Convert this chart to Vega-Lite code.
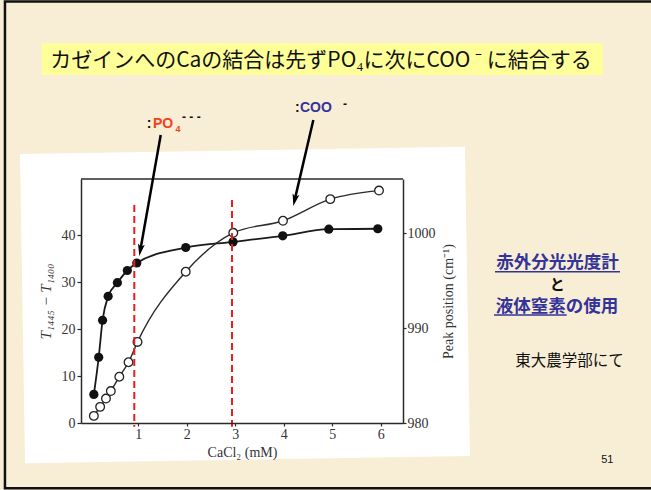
{
  "$schema": "https://vega.github.io/schema/vega-lite/v6.json",
  "width": 322,
  "height": 244,
  "autosize": {"type": "none"},
  "padding": {"left": 81, "top": 179, "right": 248, "bottom": 67},
  "background": "#f8eed5",
  "config": {
    "view": {"stroke": null},
    "axis": {
      "labelFont": "Liberation Serif", "labelColor": "#333",
      "titleFont": "Liberation Serif", "titleColor": "#333", "titleFontWeight": "normal",
      "domainColor": "#2a2a2a", "domainWidth": 1.5, "tickColor": "#2a2a2a", "tickWidth": 1.2,
      "tickSize": 4, "labelPadding": 2, "grid": false
    }
  },
  "data": {"values": [{}]},
  "datasets": {
    "bound": [
      {"cacl2": 0.085, "t_diff": 6.1},
      {"cacl2": 0.185, "t_diff": 14.0},
      {"cacl2": 0.265, "t_diff": 21.9},
      {"cacl2": 0.38, "t_diff": 27.0},
      {"cacl2": 0.57, "t_diff": 29.9},
      {"cacl2": 0.775, "t_diff": 32.5},
      {"cacl2": 0.97, "t_diff": 34.1},
      {"cacl2": 1.98, "t_diff": 37.4},
      {"cacl2": 2.955, "t_diff": 38.6},
      {"cacl2": 3.98, "t_diff": 39.9},
      {"cacl2": 4.93, "t_diff": 41.3},
      {"cacl2": 5.94, "t_diff": 41.4}
    ],
    "peak": [
      {"cacl2": 0.085, "peak": 980.75},
      {"cacl2": 0.215, "peak": 981.7},
      {"cacl2": 0.335, "peak": 982.57},
      {"cacl2": 0.435, "peak": 983.36},
      {"cacl2": 0.61, "peak": 984.87},
      {"cacl2": 0.8, "peak": 986.4},
      {"cacl2": 0.985, "peak": 988.54},
      {"cacl2": 1.98, "peak": 995.93},
      {"cacl2": 2.96, "peak": 1000.03},
      {"cacl2": 3.985, "peak": 1001.3},
      {"cacl2": 4.96, "peak": 1003.58},
      {"cacl2": 5.965, "peak": 1004.48}
    ]
  },
  "resolve": {"scale": {"y": "independent"}, "axis": {"x": "independent"}},
  "layer": [
    {
      "layer": [
        {
          "mark": {"type": "rect", "fillOpacity": 0, "stroke": "#111", "strokeWidth": 2.5},
          "encoding": {
            "x": {"datum": -1.748, "type": "quantitative", "scale": {"domain": [-0.18, 6.46], "nice": false, "zero": false}, "axis": null},
            "x2": {"datum": 11.7},
            "y": {"datum": 89.83, "type": "quantitative", "scale": {"domain": [0, 52], "nice": false, "zero": false}, "axis": null},
            "y2": {"datum": -13.92}
          }
        },
        {
          "mark": {"type": "point", "shape": "M-1,-0.695L1,-0.695L1,0.695L-1,0.695Z", "size": 198025, "angle": -0.94, "filled": true, "fill": "#ffffff", "strokeWidth": 0, "opacity": 1},
          "encoding": {
            "x": {"datum": 3.202, "type": "quantitative", "scale": {"domain": [-0.18, 6.46], "nice": false, "zero": false}, "axis": null},
            "y": {"datum": 25.15, "type": "quantitative", "scale": {"domain": [0, 52], "nice": false, "zero": false}, "axis": null}
          }
        },
        {
          "mark": {"type": "rect", "fill": "#ffff99"},
          "encoding": {
            "x": {"datum": -0.9905, "type": "quantitative", "scale": {"domain": [-0.18, 6.46], "nice": false, "zero": false}, "axis": null},
            "x2": {"datum": 10.579},
            "y": {"datum": 80.93, "type": "quantitative", "scale": {"domain": [0, 52], "nice": false, "zero": false}, "axis": null},
            "y2": {"datum": 74.17}
          }
        },
        {
          "mark": {"type": "text", "text": "カゼインへのCaの結合は先ずPO₄に次にCOO ⁻ に結合する", "font": "Noto Sans CJK JP", "fontSize": 21, "color": "#111", "align": "center", "baseline": "alphabetic"},
          "encoding": {
            "x": {"datum": 4.769, "type": "quantitative", "scale": {"domain": [-0.18, 6.46], "nice": false, "zero": false}, "axis": null},
            "y": {"datum": 75.87, "type": "quantitative", "scale": {"domain": [0, 52], "nice": false, "zero": false}, "axis": null}
          }
        },
        {
          "mark": {"type": "text", "text": "赤外分光光度計", "font": "Noto Sans CJK JP", "fontSize": 17.5, "fontWeight": "bold", "color": "#33339a", "align": "center", "baseline": "alphabetic"},
          "encoding": {
            "x": {"datum": 9.647, "type": "quantitative", "scale": {"domain": [-0.18, 6.46], "nice": false, "zero": false}, "axis": null},
            "y": {"datum": 33.04, "type": "quantitative", "scale": {"domain": [0, 52], "nice": false, "zero": false}, "axis": null}
          }
        },
        {
          "mark": {"type": "rule", "stroke": "#33339a", "strokeWidth": 1.5},
          "encoding": {
            "x": {"datum": 8.357, "type": "quantitative", "scale": {"domain": [-0.18, 6.46], "nice": false, "zero": false}, "axis": null},
            "x2": {"datum": 10.935},
            "y": {"datum": 32.25, "type": "quantitative", "scale": {"domain": [0, 52], "nice": false, "zero": false}, "axis": null}
          }
        },
        {
          "mark": {"type": "text", "text": "と", "font": "Noto Sans CJK JP", "fontSize": 15, "fontWeight": "bold", "color": "#111", "align": "center", "baseline": "alphabetic"},
          "encoding": {
            "x": {"datum": 9.643, "type": "quantitative", "scale": {"domain": [-0.18, 6.46], "nice": false, "zero": false}, "axis": null},
            "y": {"datum": 28.4, "type": "quantitative", "scale": {"domain": [0, 52], "nice": false, "zero": false}, "axis": null}
          }
        },
        {
          "mark": {"type": "text", "text": "液体窒素の使用", "font": "Noto Sans CJK JP", "fontSize": 17.5, "fontWeight": "bold", "color": "#33339a", "align": "center", "baseline": "alphabetic"},
          "encoding": {
            "x": {"datum": 9.636, "type": "quantitative", "scale": {"domain": [-0.18, 6.46], "nice": false, "zero": false}, "axis": null},
            "y": {"datum": 23.66, "type": "quantitative", "scale": {"domain": [0, 52], "nice": false, "zero": false}, "axis": null}
          }
        },
        {
          "mark": {"type": "rule", "stroke": "#33339a", "strokeWidth": 1.5},
          "encoding": {
            "x": {"datum": 8.337, "type": "quantitative", "scale": {"domain": [-0.18, 6.46], "nice": false, "zero": false}, "axis": null},
            "x2": {"datum": 9.836},
            "y": {"datum": 23.02, "type": "quantitative", "scale": {"domain": [0, 52], "nice": false, "zero": false}, "axis": null}
          }
        },
        {
          "mark": {"type": "text", "text": "東大農学部にて", "font": "Noto Sans CJK JP", "fontSize": 15.5, "color": "#111", "align": "center", "baseline": "alphabetic"},
          "encoding": {
            "x": {"datum": 9.894, "type": "quantitative", "scale": {"domain": [-0.18, 6.46], "nice": false, "zero": false}, "axis": null},
            "y": {"datum": 12.25, "type": "quantitative", "scale": {"domain": [0, 52], "nice": false, "zero": false}, "axis": null}
          }
        },
        {
          "mark": {"type": "text", "text": "51", "font": "Liberation Sans", "fontSize": 11, "color": "#111", "align": "center", "baseline": "alphabetic"},
          "encoding": {
            "x": {"datum": 10.674, "type": "quantitative", "scale": {"domain": [-0.18, 6.46], "nice": false, "zero": false}, "axis": null},
            "y": {"datum": -8.59, "type": "quantitative", "scale": {"domain": [0, 52], "nice": false, "zero": false}, "axis": null}
          }
        }
      ]
    },
    {
      "data": {"name": "bound"},
      "encoding": {
        "x": {
          "field": "cacl2", "type": "quantitative",
          "scale": {"domain": [-0.18, 6.46], "nice": false, "zero": false},
          "axis": {"values": [1, 2, 3, 4, 5, 6], "title": "CaCl₂  (mM)", "titlePadding": 4, "tickSize": 3, "labelPadding": 1, "labelFontSize": 14, "titleFontSize": 14, "zindex": 1}
        },
        "y": {
          "field": "t_diff", "type": "quantitative",
          "scale": {"domain": [0, 52], "nice": false, "zero": false},
          "axis": {"orient": "left", "values": [0, 10, 20, 30, 40], "title": "T₁₄₄₅ − T₁₄₀₀", "titleFontStyle": "italic", "titlePadding": 8, "labelFontSize": 14, "titleFontSize": 15, "zindex": 1}
        }
      },
      "layer": [
        {"mark": {"type": "line", "interpolate": "monotone", "stroke": "#1a1a1a", "strokeWidth": 1.8}},
        {"mark": {"type": "point", "shape": "circle", "filled": true, "fill": "#111", "size": 85, "opacity": 1, "strokeWidth": 0}}
      ]
    },
    {
      "data": {"name": "peak"},
      "encoding": {
        "x": {"field": "cacl2", "type": "quantitative", "scale": {"domain": [-0.18, 6.46], "nice": false, "zero": false}, "axis": null},
        "y": {
          "field": "peak", "type": "quantitative",
          "scale": {"domain": [980, 1005.7], "nice": false, "zero": false},
          "axis": {"orient": "right", "values": [980, 990, 1000], "format": "d", "title": "Peak position (cm⁻¹)", "titleAngle": 270, "titleBaseline": "top", "titlePadding": 6, "tickSize": 3, "labelPadding": 1, "labelFontSize": 14, "titleFontSize": 14, "zindex": 1}
        }
      },
      "layer": [
        {"mark": {"type": "line", "interpolate": "monotone", "stroke": "#2a2a2a", "strokeWidth": 1.4}},
        {"mark": {"type": "point", "shape": "circle", "filled": true, "fill": "#ffffff", "stroke": "#222", "strokeWidth": 1.3, "size": 75, "opacity": 1}}
      ]
    },
    {
      "layer": [
        {
          "mark": {"type": "rule", "stroke": "#2a2a2a", "strokeWidth": 1.5},
          "encoding": {
            "x": {"datum": -0.18, "type": "quantitative", "scale": {"domain": [-0.18, 6.46], "nice": false, "zero": false}, "axis": null},
            "x2": {"datum": 6.46},
            "y": {"datum": 52, "type": "quantitative", "scale": {"domain": [0, 52], "nice": false, "zero": false}, "axis": null}
          }
        },
        {
          "mark": {"type": "rule", "stroke": "#ee1c1c", "strokeWidth": 2, "strokeDash": [7, 4]},
          "encoding": {
            "x": {"datum": 0.919, "type": "quantitative", "scale": {"domain": [-0.18, 6.46], "nice": false, "zero": false}, "axis": null},
            "y": {"datum": 46.46, "type": "quantitative", "scale": {"domain": [0, 52], "nice": false, "zero": false}, "axis": null},
            "y2": {"datum": -0.79}
          }
        },
        {
          "mark": {"type": "rule", "stroke": "#ee1c1c", "strokeWidth": 2, "strokeDash": [7, 4]},
          "encoding": {
            "x": {"datum": 2.934, "type": "quantitative", "scale": {"domain": [-0.18, 6.46], "nice": false, "zero": false}, "axis": null},
            "y": {"datum": 47.53, "type": "quantitative", "scale": {"domain": [0, 52], "nice": false, "zero": false}, "axis": null},
            "y2": {"datum": -0.79}
          }
        },
        {
          "mark": {"type": "rule", "stroke": "#000", "strokeWidth": 2.5},
          "encoding": {
            "x": {"datum": 1.464, "type": "quantitative", "scale": {"domain": [-0.18, 6.46], "nice": false, "zero": false}, "axis": null},
            "x2": {"datum": 1.045},
            "y": {"datum": 61.38, "type": "quantitative", "scale": {"domain": [0, 52], "nice": false, "zero": false}, "axis": null},
            "y2": {"datum": 36.91}
          }
        },
        {
          "mark": {"type": "point", "shape": "M0,1L-0.55,-0.9L0,-0.5L0.55,-0.9Z", "size": 160, "angle": 10, "filled": true, "fill": "#000", "strokeWidth": 0, "opacity": 1},
          "encoding": {
            "x": {"datum": 1.045, "type": "quantitative", "scale": {"domain": [-0.18, 6.46], "nice": false, "zero": false}, "axis": null},
            "y": {"datum": 36.91, "type": "quantitative", "scale": {"domain": [0, 52], "nice": false, "zero": false}, "axis": null}
          }
        },
        {
          "mark": {"type": "rule", "stroke": "#000", "strokeWidth": 2.5},
          "encoding": {
            "x": {"datum": 4.611, "type": "quantitative", "scale": {"domain": [-0.18, 6.46], "nice": false, "zero": false}, "axis": null},
            "x2": {"datum": 4.227},
            "y": {"datum": 64.58, "type": "quantitative", "scale": {"domain": [0, 52], "nice": false, "zero": false}, "axis": null},
            "y2": {"datum": 47.55}
          }
        },
        {
          "mark": {"type": "point", "shape": "M0,1L-0.55,-0.9L0,-0.5L0.55,-0.9Z", "size": 160, "angle": 13, "filled": true, "fill": "#000", "strokeWidth": 0, "opacity": 1},
          "encoding": {
            "x": {"datum": 4.227, "type": "quantitative", "scale": {"domain": [-0.18, 6.46], "nice": false, "zero": false}, "axis": null},
            "y": {"datum": 47.55, "type": "quantitative", "scale": {"domain": [0, 52], "nice": false, "zero": false}, "axis": null}
          }
        },
        {
          "mark": {"type": "text", "text": ":", "font": "Liberation Sans", "fontSize": 14, "fontWeight": "bold", "color": "#111", "align": "left", "baseline": "alphabetic"},
          "encoding": {
            "x": {"datum": 1.175, "type": "quantitative", "scale": {"domain": [-0.18, 6.46], "nice": false, "zero": false}, "axis": null},
            "y": {"datum": 62.81, "type": "quantitative", "scale": {"domain": [0, 52], "nice": false, "zero": false}, "axis": null}
          }
        },
        {
          "mark": {"type": "text", "text": "PO", "font": "Liberation Sans", "fontSize": 14, "fontWeight": "bold", "color": "#f5401a", "align": "left", "baseline": "alphabetic"},
          "encoding": {
            "x": {"datum": 1.305, "type": "quantitative", "scale": {"domain": [-0.18, 6.46], "nice": false, "zero": false}, "axis": null},
            "y": {"datum": 62.81, "type": "quantitative", "scale": {"domain": [0, 52], "nice": false, "zero": false}, "axis": null}
          }
        },
        {
          "mark": {"type": "text", "text": "4", "font": "Liberation Sans", "fontSize": 9, "fontWeight": "bold", "color": "#f5401a", "align": "left", "baseline": "alphabetic"},
          "encoding": {
            "x": {"datum": 1.769, "type": "quantitative", "scale": {"domain": [-0.18, 6.46], "nice": false, "zero": false}, "axis": null},
            "y": {"datum": 62.02, "type": "quantitative", "scale": {"domain": [0, 52], "nice": false, "zero": false}, "axis": null}
          }
        },
        {
          "mark": {"type": "text", "text": "-  -  -", "font": "Liberation Sans", "fontSize": 12, "fontWeight": "bold", "color": "#111", "align": "left", "baseline": "alphabetic"},
          "encoding": {
            "x": {"datum": 1.903, "type": "quantitative", "scale": {"domain": [-0.18, 6.46], "nice": false, "zero": false}, "axis": null},
            "y": {"datum": 64.37, "type": "quantitative", "scale": {"domain": [0, 52], "nice": false, "zero": false}, "axis": null}
          }
        },
        {
          "mark": {"type": "text", "text": ":", "font": "Liberation Sans", "fontSize": 14, "fontWeight": "bold", "color": "#111", "align": "left", "baseline": "alphabetic"},
          "encoding": {
            "x": {"datum": 4.233, "type": "quantitative", "scale": {"domain": [-0.18, 6.46], "nice": false, "zero": false}, "axis": null},
            "y": {"datum": 66.22, "type": "quantitative", "scale": {"domain": [0, 52], "nice": false, "zero": false}, "axis": null}
          }
        },
        {
          "mark": {"type": "text", "text": "COO", "font": "Liberation Sans", "fontSize": 14, "fontWeight": "bold", "color": "#33339a", "align": "left", "baseline": "alphabetic"},
          "encoding": {
            "x": {"datum": 4.336, "type": "quantitative", "scale": {"domain": [-0.18, 6.46], "nice": false, "zero": false}, "axis": null},
            "y": {"datum": 66.22, "type": "quantitative", "scale": {"domain": [0, 52], "nice": false, "zero": false}, "axis": null}
          }
        },
        {
          "mark": {"type": "text", "text": "-", "font": "Liberation Sans", "fontSize": 12, "fontWeight": "bold", "color": "#111", "align": "left", "baseline": "alphabetic"},
          "encoding": {
            "x": {"datum": 5.223, "type": "quantitative", "scale": {"domain": [-0.18, 6.46], "nice": false, "zero": false}, "axis": null},
            "y": {"datum": 67.14, "type": "quantitative", "scale": {"domain": [0, 52], "nice": false, "zero": false}, "axis": null}
          }
        }
      ]
    }
  ]
}
